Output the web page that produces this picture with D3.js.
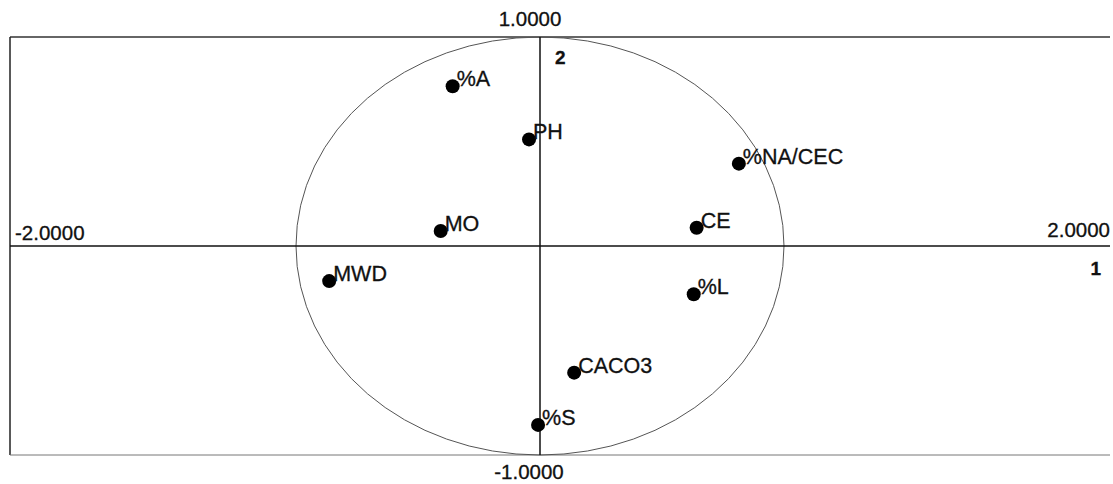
<!DOCTYPE html>
<html lang="en">
  <head>
    <meta charset="utf-8">
    <title>Correlation circle</title>
    <style>
      body { margin: 0; background: #fff; }
      svg text { font-family: "Liberation Sans", Arial, sans-serif; fill: #111; stroke: #111; stroke-width: 0.3px; }
    </style>
  </head>
  <body>
    <script src="https://cdn.jsdelivr.net/npm/d3@7"></script>
    <script>

    // variables and their loadings on factors 1 (x) and 2 (y)
    var names = ["%A", "PH", "%NA/CEC", "MO", "CE", "MWD", "%L", "CACO3", "%S"];
    var f1 = [-0.358, -0.045, 0.815, -0.407, 0.642, -0.864, 0.630, 0.140, -0.008];
    var f2 = [0.764, 0.510, 0.394, 0.072, 0.087, -0.168, -0.231, -0.606, -0.856];

    var xTickLabels = ["-2.0000", "2.0000"];
    var yTickLabels = ["1.0000", "-1.0000"];
    var axisNames = ["1", "2"];

    var w = 1113,
        h = 484,
        left = 10,
        right = 1110,
        cx = 540,
        cy = 246,
        rx = 244,
        ry = 209;

    var x = d3.scaleLinear().domain([-1, 1]).range([cx - rx, cx + rx]),
        y = d3.scaleLinear().domain([-1, 1]).range([cy + ry, cy - ry]);

    var data = names.map(function(n, i) { return {name: n, x: f1[i], y: f2[i]}; });

    var svg = d3.select("body").append("svg")
        .attr("width", w)
        .attr("height", h);

    // frame: top, left and bottom only
    svg.append("line")
        .attr("x1", left).attr("x2", right)
        .attr("y1", y(1)).attr("y2", y(1))
        .attr("stroke", "#333").attr("stroke-width", 1.5);
    svg.append("line")
        .attr("x1", left).attr("x2", left)
        .attr("y1", y(1)).attr("y2", y(-1))
        .attr("stroke", "#222").attr("stroke-width", 1.5);
    svg.append("line")
        .attr("x1", left).attr("x2", right)
        .attr("y1", y(-1)).attr("y2", y(-1))
        .attr("stroke", "#777").attr("stroke-width", 1);

    // unit circle
    svg.append("ellipse")
        .attr("cx", x(0)).attr("cy", y(0))
        .attr("rx", x(1) - x(0)).attr("ry", y(-1) - y(0))
        .attr("fill", "none")
        .attr("stroke", "#555").attr("stroke-width", 1);

    // axes through the origin
    svg.append("line")
        .attr("x1", left).attr("x2", right)
        .attr("y1", y(0)).attr("y2", y(0))
        .attr("stroke", "#111").attr("stroke-width", 1.3);
    svg.append("line")
        .attr("x1", x(0)).attr("x2", x(0))
        .attr("y1", y(1)).attr("y2", y(-1))
        .attr("stroke", "#111").attr("stroke-width", 1.5);

    // end labels
    svg.append("text")
        .attr("x", left + 5).attr("y", y(0) - 6)
        .style("font-size", "20.5px")
        .text(xTickLabels[0]);
    svg.append("text")
        .attr("x", right).attr("y", y(0) - 9)
        .attr("text-anchor", "end")
        .style("font-size", "20.5px")
        .text(xTickLabels[1]);
    svg.append("text")
        .attr("x", x(0) - 10).attr("y", y(1) - 11)
        .attr("text-anchor", "middle")
        .style("font-size", "20.5px")
        .text(yTickLabels[0]);
    svg.append("text")
        .attr("x", x(0) - 11).attr("y", y(-1) + 24)
        .attr("text-anchor", "middle")
        .style("font-size", "20.5px")
        .text(yTickLabels[1]);

    // axis numbers
    svg.append("text")
        .attr("x", right - 9).attr("y", y(0) + 29)
        .attr("text-anchor", "end")
        .style("font-size", "19px").style("font-weight", "bold")
        .text(axisNames[0]);
    svg.append("text")
        .attr("x", x(0) + 15).attr("y", y(1) + 27)
        .attr("text-anchor", "start")
        .style("font-size", "19px").style("font-weight", "bold")
        .text(axisNames[1]);

    // variables
    var pts = svg.selectAll(".pt")
        .data(data)
      .enter().append("g")
        .attr("class", "pt")
        .attr("transform", function(d) { return "translate(" + x(d.x) + "," + y(d.y) + ")"; });

    pts.append("circle")
        .attr("r", 7)
        .attr("fill", "#000");

    pts.append("text")
        .attr("x", 4)
        .attr("y", 0)
        .style("font-size", "21.5px")
        .text(function(d) { return d.name; });

    </script>
  </body>
</html>
